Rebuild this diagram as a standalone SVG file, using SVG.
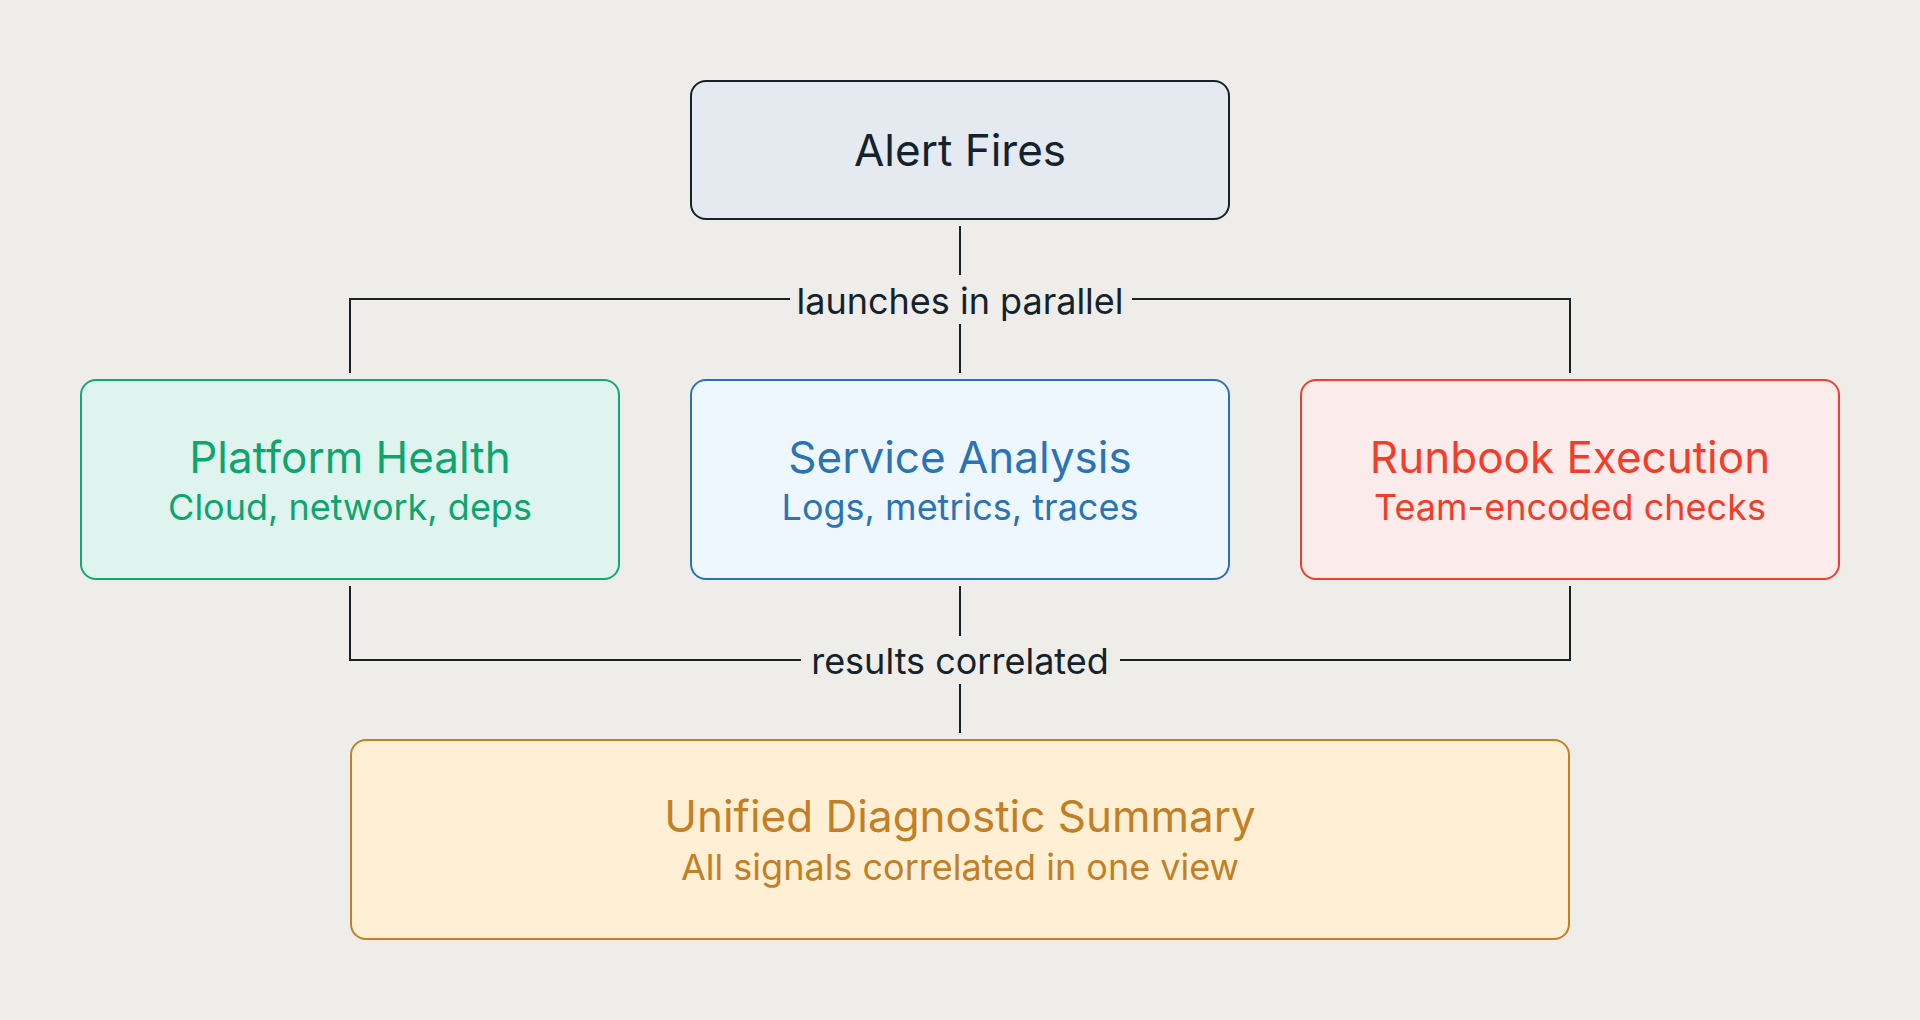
<svg xmlns="http://www.w3.org/2000/svg" width="1920" height="1020" viewBox="0 0 1920 1020">
<style>
.box{stroke-width:2}
.t{font-family:Inter,"Noto Sans","Liberation Sans",sans-serif;text-anchor:middle}
.title{font-size:44px}
.sub{font-size:36px}
.lbl{font-size:36px;fill:#13222b}
.conn{fill:none;stroke:#13222b;stroke-width:2}
</style>
<rect width="1920" height="1020" fill="#efede9"/>
<g id="connectors">
<path class="conn" d="M960 226V275"/>
<path class="conn" d="M960 324V373"/>
<path class="conn" d="M350 373V299H790"/>
<path class="conn" d="M1132 299H1570V373"/>
<path class="conn" d="M350 586V660H801"/>
<path class="conn" d="M1120 660H1570V586"/>
<path class="conn" d="M960 586V636"/>
<path class="conn" d="M960 684V733"/>
<text class="t lbl" x="960" y="314">launches in parallel</text>
<text class="t lbl" x="960" y="674">results correlated</text>
</g>
<g id="alert">
<rect class="box" x="691" y="81" width="538" height="138" rx="15" fill="#e5e9f0" stroke="#13222b"/>
<text class="t title" x="960" y="166" fill="#13222b">Alert Fires</text>
</g>
<g id="platform">
<rect class="box" x="81" y="380" width="538" height="199" rx="15" fill="#dff4ee" stroke="#12a873"/>
<text class="t title" x="350" y="473" fill="#0ca56d">Platform Health</text>
<text class="t sub" x="350" y="520" fill="#0ca56d">Cloud, network, deps</text>
</g>
<g id="service">
<rect class="box" x="691" y="380" width="538" height="199" rx="15" fill="#eef7fd" stroke="#2a72b5"/>
<text class="t title" x="960" y="473" fill="#2a74b5">Service Analysis</text>
<text class="t sub" x="960" y="520" fill="#2a74b5">Logs, metrics, traces</text>
</g>
<g id="runbook">
<rect class="box" x="1301" y="380" width="538" height="199" rx="15" fill="#fbeceb" stroke="#f23d2a"/>
<text class="t title" x="1570" y="473" fill="#f23d2a">Runbook Execution</text>
<text class="t sub" x="1570" y="520" fill="#f23d2a">Team-encoded checks</text>
</g>
<g id="summary">
<rect class="box" x="351" y="740" width="1218" height="199" rx="15" fill="#fff0d5" stroke="#c27f25"/>
<text class="t title" x="960" y="832" fill="#c27f25">Unified Diagnostic Summary</text>
<text class="t sub" x="960" y="880" fill="#c27f25">All signals correlated in one view</text>
</g>
</svg>
